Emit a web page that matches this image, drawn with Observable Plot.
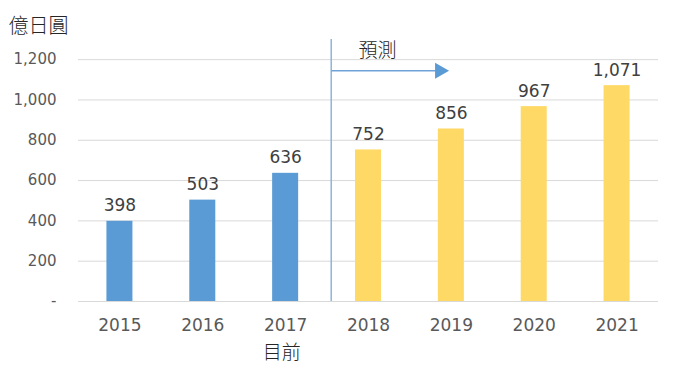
<!DOCTYPE html>
<html><head><meta charset="utf-8">
<script src="https://cdn.jsdelivr.net/npm/d3@7"></script>
<script src="https://cdn.jsdelivr.net/npm/@observablehq/plot@0.6"></script>
<style>
body{margin:0;background:#fff;}
svg{font-family:"DejaVu Sans","Noto Sans CJK TC",sans-serif;}
</style></head><body>
<div id="chart"></div>
<script>
const years = [2015, 2016, 2017, 2018, 2019, 2020, 2021];
const values = [398, 503, 636, 752, 856, 967, 1071];
const kinds = ["actual", "actual", "actual", "forecast", "forecast", "forecast", "forecast"];
const yTicks = [0, 200, 400, 600, 800, 1000, 1200];
const unitLabel = "億日圓";
const forecastLabel = "預測";
const currentLabel = "目前";
const currentYear = 2017;
const splitYear = 2017.55;
const arrowEnd = 2018.93;
const arrowValue = 1145;
const forecastTextPos = {x: 2018.11, y: 1244};

const data = years.map((y, i) => ({year: y, value: values[i], kind: kinds[i]}));
const bw = 0.157;
const cjk = '"Noto Sans CJK TC","DejaVu Sans",sans-serif';

const chart = Plot.plot({
  width: 674, height: 368,
  marginLeft: 78, marginRight: 16, marginTop: 39, marginBottom: 67,
  style: {fontFamily: '"DejaVu Sans","Noto Sans CJK TC",sans-serif', overflow: "visible"},
  x: {domain: [2014.5, 2021.5], ticks: years, tickFormat: d => String(d)},
  y: {domain: [0, 1300], ticks: yTicks},
  color: {domain: ["actual", "forecast"], range: ["#5B9BD5", "#FFD966"]},
  marks: [
    Plot.gridY(yTicks, {stroke: "#d9d9d9", strokeOpacity: 1, strokeWidth: 1}),
    Plot.axisY(yTicks, {tickSize: 0, tickPadding: 22, fontSize: 15, fill: "#595959", label: null,
      tickFormat: d => d === 0 ? "-" : d3.format(",")(d)}),
    Plot.axisX(years, {tickSize: 0, tickPadding: 17, fontSize: 17, fill: "#595959", label: null,
      tickFormat: d => String(d)}),
    Plot.rectY(data, {x1: d => d.year - bw, x2: d => d.year + bw, y1: 0, y2: "value", fill: "kind"}),
    Plot.text(data, {x: "year", y: "value", text: d => d3.format(",")(d.value), lineAnchor: "bottom", dy: -10, fontSize: 17, fill: "#404040"}),
    Plot.ruleX([splitYear], {y1: 0, y2: 1300, stroke: "#8FB4DC", strokeWidth: 1.5}),
    Plot.link([{x1: splitYear, x2: arrowEnd - 0.1, y: arrowValue}], {x1: "x1", x2: "x2", y1: "y", y2: "y", stroke: "#6FA3D8", strokeWidth: 1.5}),
    Plot.dot([{x: arrowEnd - 0.07, y: arrowValue}], {x: "x", y: "y", symbol: "triangle", rotate: 90, r: 6, fill: "#5B9BD5", stroke: "none"}),
    Plot.text([forecastTextPos], {x: "x", y: "y", text: () => forecastLabel, fontSize: 19, fill: "#262626", fontFamily: cjk, fontWeight: 300}),
    Plot.text([{x: currentYear, y: 0}], {x: "x", y: "y", text: () => currentLabel, dx: -4, dy: 51, fontSize: 19, fill: "#262626", fontFamily: cjk, fontWeight: 300}),
    Plot.text([unitLabel], {frameAnchor: "top-left", text: d => d, dx: -70, dy: -21, fontSize: 20, fill: "#262626", fontFamily: cjk, fontWeight: 300, textAnchor: "start"})
  ]
});
document.getElementById("chart").appendChild(chart);
</script>
</body></html>
